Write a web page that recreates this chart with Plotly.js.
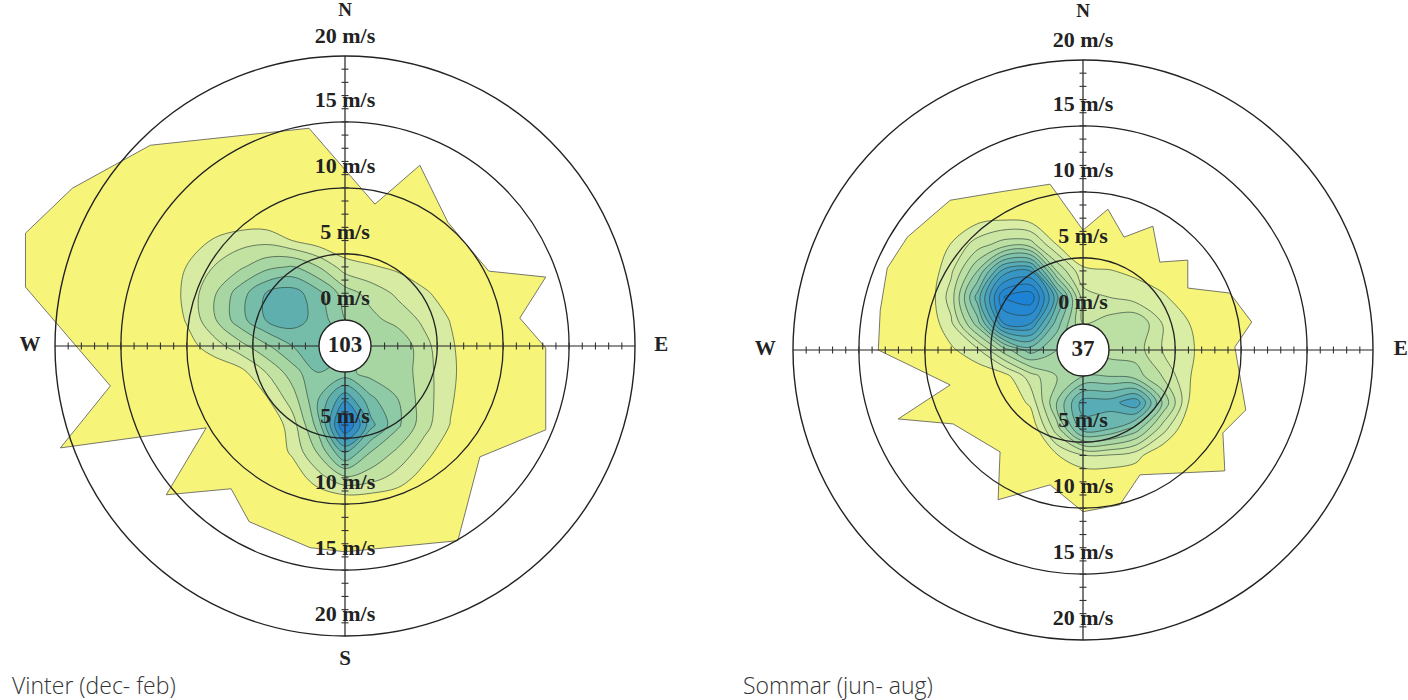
<!DOCTYPE html>
<html><head><meta charset="utf-8">
<script src="https://cdn.plot.ly/plotly-3.0.1.min.js"></script>
<style>html,body{margin:0;padding:0;background:#fff}#chart{width:1408px;height:700px}</style>
</head><body><div id="chart"></div>
<script>
// ---------------- data ----------------
const speedRings = [5, 10, 15, 20];
const speedLabelsNorth = [15, 10, 5, 0];      // inside the 20 m/s ring
const speedLabelOuter = 20;                    // north label above the outer ring
const speedLabelsSouth = [5, 10, 15, 20];
const minorTickSpeeds = [1,2,3,4,5,6,7,8,9,10,11,12,13,14,15,16,17,18,19];
const compassLetters = ['N', 'E', 'S', 'W'];
const compassDegrees = [0, 90, 180, 270];
const winterCount = '103';
const summerCount = '37';
const winterCaption = 'Vinter (dec- feb)';
const summerCaption = 'Sommar (jun- aug)';

// frequency field, east (x) / north (y) positions in m/s-scale units from the centre
const gridX = [-14,-12,-10,-8,-6,-4,-2,0,2,4,6,8,10];
const winterY = [-14,-12,-10,-8,-6,-4,-2,0,2,4,6,8,10];
const winterZ = [
  [0,0,0,0,0,0,0,0,0,0,0,0,0],
  [0,0,0,0,0,0,0,0,0,0,0,0,0],
  [0,0,0,0,0,0.3,1.6,2.8,2.4,1.6,0.5,0,0],
  [0,0,0,0,0,1.2,3.2,6.2,4.0,2.8,1.5,0.2,0],
  [0,0,0,0,0,1.5,4.5,10.3,6.3,4.2,2.4,0.95,0],
  [0,0,0,0,0.85,2.5,5.0,7.8,5.2,4.0,2.5,1.15,0],
  [0,0,0.2,0.6,2.0,3.5,5.0,4.3,3.6,3.8,2.4,1.3,0],
  [0,0.6,1.5,2.6,3.8,5.0,5.3,5.0,3.8,3.9,2.3,1.2,0],
  [0,1.1,2.8,4.6,6.05,6.5,5.6,4.0,3.3,2.6,1.8,0.95,0],
  [0,1.3,2.8,4.5,6.05,6.5,5.3,3.5,2.6,1.8,1.2,0.4,0],
  [0,1.05,2.0,2.8,3.7,4.1,3.0,1.5,1.1,0.8,0.2,0,0],
  [0,0,1.1,1.6,1.7,1.0,0.4,0,0,0,0,0,0],
  [0,0,0,0,0,0,0,0,0,0,0,0,0]
];
const summerY = [-12,-10,-8,-6,-4,-2,0,2,4,6,8,10,12];
const summerZ = [
  [0,0,0,0,0,0,0,0,0,0,0,0,0],
  [0,0,0,0,0,0,0,0,0,0,0,0,0],
  [0,0,0,0,0,0,0.9,1.9,1.9,1.4,0,0,0],
  [0,0,0,0,0,0,3.5,7.5,7,5.5,2.5,0,0],
  [0,0,0,0,0,1.2,5,8.5,8.5,9.8,5,1.0,0],
  [0,0,0,0.2,0.5,2.5,4,5,5,4.5,3,1.1,0],
  [0,0,0.8,1.8,4.5,6.5,5,4,3.5,3.5,2,1.3,0],
  [0,0,1.8,5.5,11,11,6.5,3,3.5,4,2,1.05,0],
  [0,0,2.5,7.5,13,13.8,8.5,2.5,2,1.5,1.2,0.3,0],
  [0,0,1.8,5,9.5,10,4,1.2,1.05,0.8,0.2,0,0],
  [0,0,1.05,2.5,3.5,3.5,1.0,0,0,0,0,0,0],
  [0,0,0,0.6,0.8,0.5,0,0,0,0,0,0,0],
  [0,0,0,0,0,0,0,0,0,0,0,0,0]
];

// outer (lowest class) boundary, same units
const winterEdgeX = [-2.73,2.27,5.68,7.80,10.91,15.23,13.26,15.23,15.23,10.23,8.56,0,-2.65,-7.27,-8.64,-13.56,-10.53,-21.59,-17.80,-21.89,-24.24,-24.24,-20.68,-14.77];
const winterEdgeY = [16.52,10.76,13.71,9.39,5.68,5.23,2.12,-0.15,-6.36,-8.41,-14.77,-15.61,-15.30,-13.33,-10.83,-11.29,-6.21,-7.73,-3.03,1.74,4.47,8.56,11.97,15.23];
const summerEdgeX = [-2.5,0,1.89,3.11,5.30,5.83,7.95,7.95,11.14,12.80,11.52,12.35,10.61,10.76,4.32,2.80,0,-2.5,-6.44,-6.29,-9.85,-14.02,-10.08,-15.53,-15.38,-14.85,-13.33,-10.08,-6.44];
const summerEdgeY = [12.58,9.09,10.68,8.56,9.39,6.67,6.82,4.70,4.32,2.12,0.23,-4.55,-6.29,-9.17,-9.47,-11.74,-12.27,-10.23,-11.36,-7.73,-5.61,-5.23,-2.65,0,3.03,6.21,8.56,11.36,11.97];

// ---------------- styling / geometry ----------------
const W = 1408, H = 700, R = 290, rMin = -2, rMax = 20;
const k = R / (rMax - rMin);
const labelLift = 1.55;
const charts = [
  {cx: 345, cy: 346, x0: 0, x1: 700, count: winterCount, caption: winterCaption, capX: 10,
   y: winterY, z: winterZ, ex: winterEdgeX, ey: winterEdgeY, showS: true,
   bands: ['#D7EBA2','#C2E2A1','#A8D6A2','#8ECAA5','#75BDA8','#5EAFAE','#479FB8','#338FC5','#2181CF'],
   compassR: [25.4, 24.0, 23.8, 23.9]},
  {cx: 1083, cy: 350, x0: 704, x1: 1408, count: summerCount, caption: summerCaption, capX: 741,
   y: summerY, z: summerZ, ex: summerEdgeX, ey: summerEdgeY, showS: false,
   bands: ['#DAEDA5','#CCE6A4','#BCDFA4','#A9D6A5','#95CCA8','#80C2AB','#6BB7B0','#58ACB6','#47A1BD','#3896C5','#2D8DCC','#2487D1','#1C82D6'],
   compassR: [25.6, 24.1, 23.8, 24.1]}
];
const serif = {family: 'Liberation Serif, Times New Roman, serif', size: 22, color: '#222', weight: 'bold'};

const traces = [];
const layout = {
  width: W, height: H, margin: {l:0, r:0, t:0, b:0},
  paper_bgcolor: '#fff', plot_bgcolor: 'rgba(0,0,0,0)', showlegend: false,
  annotations: []
};

charts.forEach((c, i) => {
  const n = i + 1;
  const xa = 'x' + (n === 1 ? '' : n), ya = 'y' + (n === 1 ? '' : n);
  const xo = 'x' + (n + 2), yo = 'y' + (n + 2);
  const xRange = [(c.x0 - c.cx) / k, (c.x1 - c.cx) / k];
  const yRange = [(c.cy - H) / k, c.cy / k];
  layout['xaxis' + (n === 1 ? '' : n)] = {domain: [c.x0 / W, c.x1 / W], range: xRange, visible: false, anchor: ya, fixedrange: true};
  layout['yaxis' + (n === 1 ? '' : n)] = {domain: [0, 1], range: yRange, visible: false, anchor: xa, fixedrange: true};
  layout['xaxis' + (n + 2)] = {overlaying: xa, range: xRange, visible: false, anchor: yo, fixedrange: true};
  layout['yaxis' + (n + 2)] = {overlaying: ya, range: yRange, visible: false, anchor: xo, fixedrange: true};

  // yellow outer class
  traces.push({type: 'scatter', x: c.ex.concat([c.ex[0]]), y: c.ey.concat([c.ey[0]]), xaxis: xa, yaxis: ya,
    mode: 'lines', fill: 'toself', fillcolor: '#F7F47A', line: {color: '#555', width: 0.8}, hoverinfo: 'skip'});

  // contour classes
  const nc = c.bands.length;
  const scale = [[0, 'rgba(255,255,255,0)']];
  c.bands.forEach((col, j) => scale.push([(j + 1) / nc, col]));
  traces.push({type: 'contour', x: gridX, y: c.y, z: c.z, xaxis: xo, yaxis: yo,
    autocontour: false, contours: {start: 1, end: nc, size: 1, coloring: 'fill', showlines: true},
    colorscale: scale, showscale: false, line: {color: 'rgba(45,65,55,0.72)', width: 0.9, smoothing: 1},
    hoverinfo: 'skip'});

  // labels outside the 20 m/s ring (cartesian overlay, centre = 0,0, radius = r - rMin)
  const oX = [], oY = [], oT = [], oS = [];
  compassLetters.forEach((L, j) => {
    if (L === 'S' && !c.showS) return;
    const d = c.compassR[j];
    const a = compassDegrees[j] * Math.PI / 180;
    oX.push(d * Math.sin(a)); oY.push(d * Math.cos(a)); oT.push(L); oS.push(L === 'N' ? 19 : 21);
  });
  oX.push(0); oY.push(speedLabelOuter + 1.42 - rMin); oT.push(speedLabelOuter + ' m/s'); oS.push(22);
  traces.push({type: 'scatter', x: oX, y: oY, text: oT, mode: 'text', xaxis: xo, yaxis: yo,
    textposition: 'middle center', textfont: Object.assign({}, serif, {size: oS}), cliponaxis: false, hoverinfo: 'skip'});

  const sp = 'polar' + (n === 1 ? '' : n);
  layout[sp] = {
    domain: {x: [(c.cx - R) / W, (c.cx + R) / W], y: [(H - c.cy - R) / H, (H - c.cy + R) / H]},
    bgcolor: 'rgba(0,0,0,0)',
    radialaxis: {range: [rMin, rMax], tickvals: speedRings, showticklabels: false, ticks: '', showline: false,
      gridcolor: '#222', gridwidth: 1.3, angle: 90},
    angularaxis: {rotation: 90, direction: 'clockwise', tickvals: compassDegrees, showticklabels: false, ticks: '',
      gridcolor: '#222', gridwidth: 1.2, showline: true, linecolor: '#222', linewidth: 1.4}
  };

  // minor ticks on the four axes
  const ewR = [], ewT = [], nsR = [], nsT = [];
  minorTickSpeeds.forEach(s => { ewR.push(s, s); ewT.push(90, 270); nsR.push(s, s); nsT.push(0, 180); });
  traces.push({type: 'scatterpolar', subplot: sp, r: ewR, theta: ewT, mode: 'markers',
    marker: {symbol: 'line-ns', size: 5, line: {width: 1.1, color: '#333'}}, hoverinfo: 'skip'});
  traces.push({type: 'scatterpolar', subplot: sp, r: nsR, theta: nsT, mode: 'markers',
    marker: {symbol: 'line-ew', size: 5, line: {width: 1.1, color: '#333'}}, hoverinfo: 'skip'});

  // speed labels (sit just above their rings)
  const labR = [], labT = [], labTxt = [];
  speedLabelsNorth.forEach(s => { labR.push(s + labelLift); labT.push(0); labTxt.push(s + ' m/s'); });
  speedLabelsSouth.forEach(s => { labR.push(s - labelLift); labT.push(180); labTxt.push(s + ' m/s'); });
  traces.push({type: 'scatterpolar', subplot: sp, r: labR, theta: labT, text: labTxt, mode: 'text',
    textposition: 'middle center', textfont: serif, hoverinfo: 'skip'});

  // centre calm circle
  traces.push({type: 'scatterpolar', subplot: sp, r: [rMin], theta: [0], text: [c.count], mode: 'markers+text',
    textposition: 'middle center', textfont: Object.assign({}, serif, {size: 23}),
    marker: {size: 52, color: '#fff', line: {color: '#222', width: 1.4}}, cliponaxis: false, hoverinfo: 'skip'});

  layout.annotations.push({text: c.caption, xref: 'paper', yref: 'paper', x: c.capX / W, y: (H - 685) / H,
    xanchor: 'left', yanchor: 'middle', showarrow: false,
    font: {family: 'Open Sans, Lato, sans-serif', size: 23, color: '#333', weight: 300}});
});

Plotly.newPlot('chart', traces, layout, {displayModeBar: false, staticPlot: true});
</script>
</body></html>
